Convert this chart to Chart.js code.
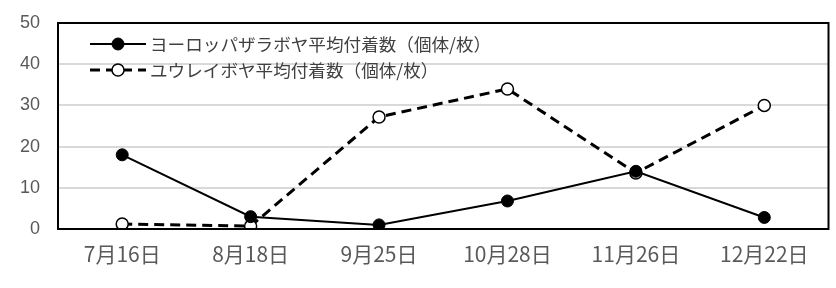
<!DOCTYPE html>
<html>
<head>
<meta charset="utf-8">
<script src="https://cdn.jsdelivr.net/npm/chart.js@4"></script>
<style>
  html, body { margin: 0; padding: 0; background: #fff; }
  #wrap { width: 836px; height: 288px; }
</style>
</head>
<body>
<div id="wrap"><canvas id="chart" width="836" height="288"></canvas></div>
<script>
const dates = ["7月16日", "8月18日", "9月25日", "10月28日", "11月26日", "12月22日"];
const zarabova = [18, 3, 1, 6.8, 14, 2.8];
const yuurei = [1.2, 0.7, 27.2, 34, 13.6, 30];
const yTicks = [0, 10, 20, 30, 40, 50];

const labelFont = '"Noto Sans CJK JP", "Noto Sans", sans-serif';

// legend drawn inside the plot area, upper left
const innerLegend = {
  id: "innerLegend",
  afterDraw(chart) {
    const { ctx, chartArea } = chart;
    const area = chartArea;
    ctx.save();
    // plot frame
    ctx.strokeStyle = "#000";
    ctx.lineWidth = 2;
    ctx.strokeRect(area.left, area.top, area.right - area.left, area.bottom - area.top);

    chart.data.datasets.forEach((ds, i) => {
      const y = area.top + 21 + i * 26;
      const x0 = area.left + 32, x1 = area.left + 88;
      ctx.beginPath();
      ctx.setLineDash(ds.borderDash || []);
      ctx.lineWidth = ds.borderWidth;
      ctx.strokeStyle = ds.borderColor;
      ctx.moveTo(x0, y);
      ctx.lineTo(x1, y);
      ctx.stroke();
      ctx.setLineDash([]);
      ctx.beginPath();
      ctx.arc((x0 + x1) / 2, y, ds.pointRadius, 0, Math.PI * 2);
      ctx.fillStyle = ds.pointBackgroundColor;
      ctx.fill();
      ctx.lineWidth = ds.pointBorderWidth;
      ctx.strokeStyle = ds.pointBorderColor;
      ctx.stroke();
      ctx.fillStyle = "#404040";
      ctx.font = "17.6px " + labelFont;
      ctx.textBaseline = "middle";
      ctx.fillText(ds.label, x1 + 4, y);
    });
    ctx.restore();
  }
};

new Chart(document.getElementById("chart"), {
  type: "line",
  data: {
    labels: dates,
    datasets: [
      {
        label: "ヨーロッパザラボヤ平均付着数（個体/枚）",
        data: zarabova,
        borderColor: "#000",
        borderWidth: 2,
        pointRadius: 6,
        pointBackgroundColor: "#000",
        pointBorderColor: "#000",
        pointBorderWidth: 1,
        tension: 0
      },
      {
        label: "ユウレイボヤ平均付着数（個体/枚）",
        data: yuurei,
        borderColor: "#000",
        borderWidth: 3,
        borderDash: [10, 6],
        pointRadius: 6,
        pointBackgroundColor: "#fff",
        pointBorderColor: "#000",
        pointBorderWidth: 1.5,
        tension: 0
      }
    ]
  },
  options: {
    responsive: false,
    animation: false,
    layout: { padding: { top: 23, right: 7, bottom: 0, left: 0 } },
    plugins: {
      legend: { display: false },
      tooltip: { enabled: false }
    },
    scales: {
      x: {
        offset: true,
        grid: { display: false },
        border: { display: false },
        ticks: {
          color: "#595959",
          font: { family: labelFont, size: 21 },
          padding: 4,
          maxRotation: 0
        },
        afterFit(scale) {
          scale.height = 59;
          scale.paddingLeft = 0;
          scale.paddingRight = 0;
        }
      },
      y: {
        min: 0,
        max: 50,
        afterBuildTicks(scale) { scale.ticks = yTicks.map(v => ({ value: v })); },
        grid: { color: "#d9d9d9", lineWidth: 2, drawTicks: false },
        border: { display: false },
        ticks: {
          color: "#595959",
          font: { family: "Liberation Sans, Arial, sans-serif", size: 18 },
          padding: 18
        },
        afterFit(scale) {
          scale.width = 58;
          scale.paddingTop = 0;
          scale.paddingBottom = 0;
        }
      }
    }
  },
  plugins: [innerLegend]
});
</script>
</body>
</html>
